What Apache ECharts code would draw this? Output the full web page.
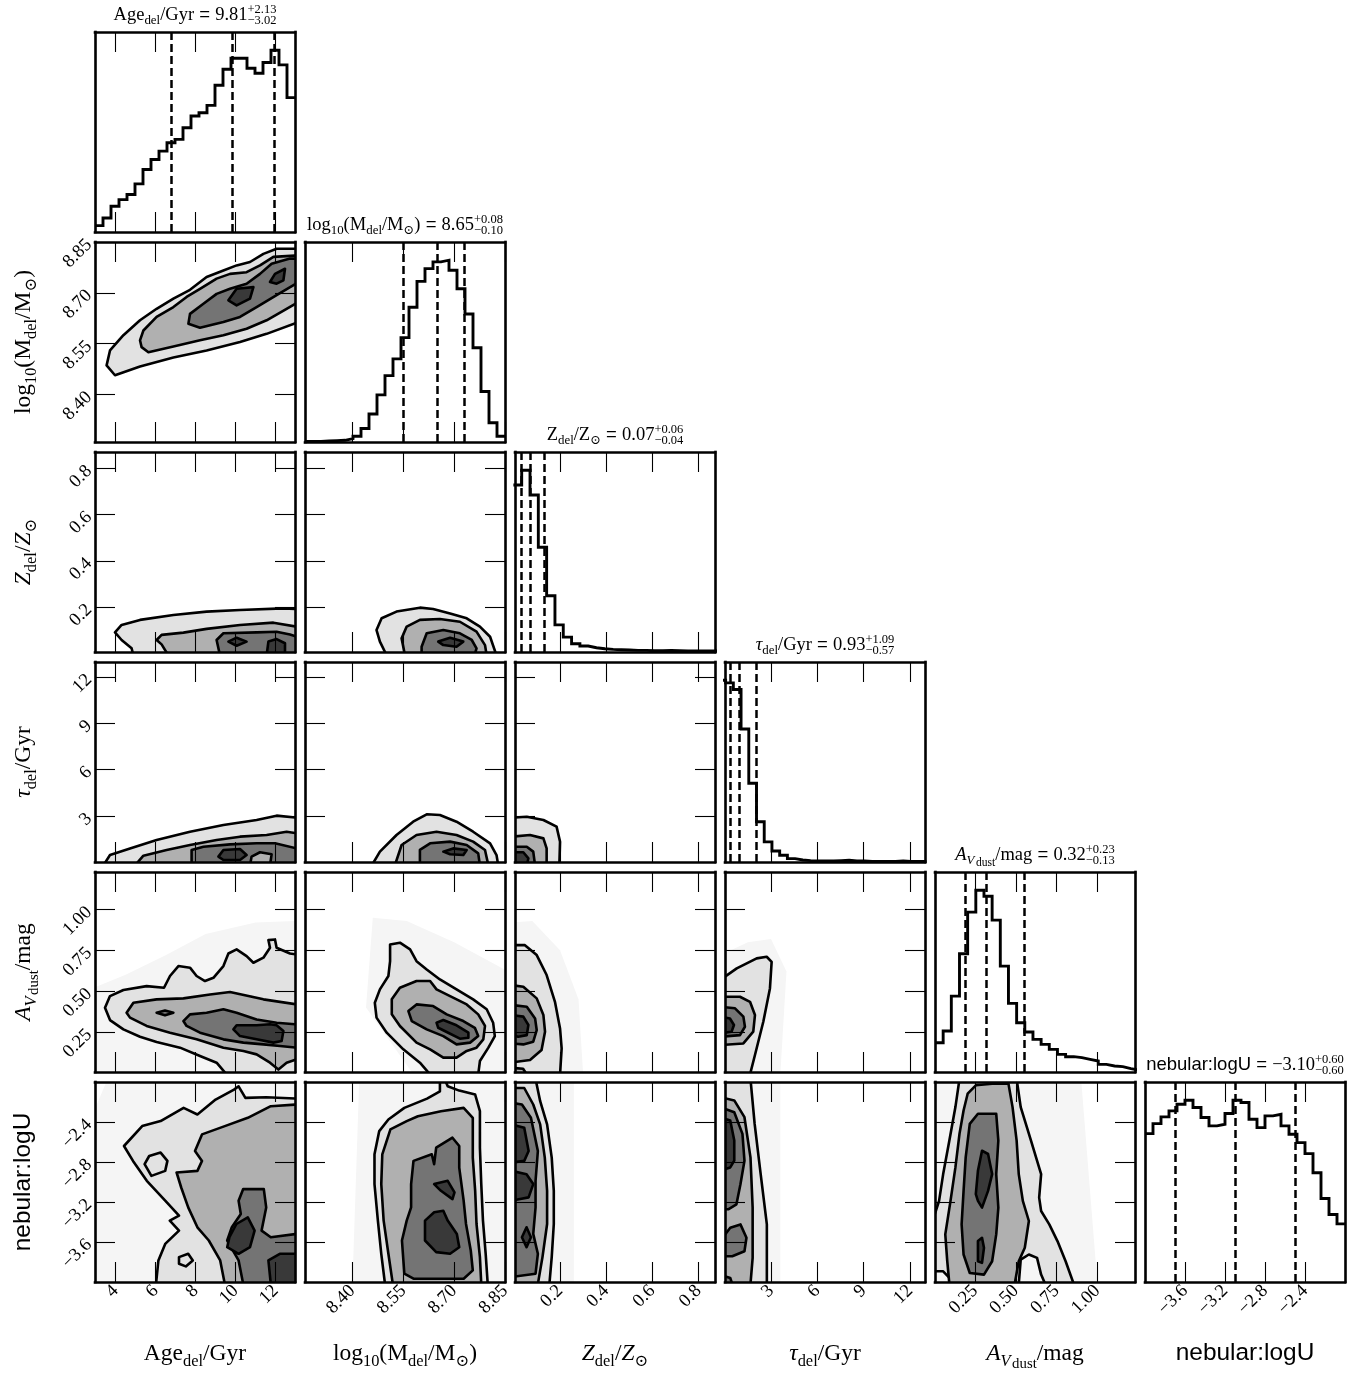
<!DOCTYPE html>
<html><head><meta charset="utf-8">
<script src="https://cdn.jsdelivr.net/npm/echarts@6.0.0/dist/echarts.min.js"></script>
<style>html,body{margin:0;padding:0;background:#fff}#c{width:1355px;height:1378px}</style>
</head><body><div id="c"></div>
<script>
// ---------------- DATA ----------------
const axisMin = [2.97, 8.26, 0.005, 0.02, 0.005, -4.0];
const axisMax = [12.97, 8.85, 0.871, 12.97, 1.23, -2.0];
const tickVals = [[4,6,8,10,12],[8.40,8.55,8.70,8.85],[0.2,0.4,0.6,0.8],[3,6,9,12],[0.25,0.5,0.75,1.0],[-3.6,-3.2,-2.8,-2.4]];
const tickLabels = [['4','6','8','10','12'],['8.40','8.55','8.70','8.85'],['0.2','0.4','0.6','0.8'],['3','6','9','12'],['0.25','0.50','0.75','1.00'],['\u22123.6','\u22123.2','\u22122.8','\u22122.4']];

const ageCounts = [19,42,77,97,112,144,187,217,242,267,277,312,347,357,379,439,487,520,520,490,475,507,544,500,402];
const massCounts = [2,2,3,4,5,10,17,40,83,140,197,247,310,400,477,515,535,540,510,455,380,280,150,57,17];
const zCounts = [505,550,475,317,170,82,45,25,18,13,10,8,7,6,5,5,4,4,5,4,3,3,3,3,3];
const tauCounts = [543,535,515,397,235,120,60,33,20,10,6,4,3,3,3,4,5,3,3,2,2,2,2,3,2,2,2];
const avCounts = [88,123,228,355,480,546,528,456,318,206,148,120,98,83,68,53,46,43,38,33,23,18,16,10,6];
const logUCounts = [444,474,494,512,532,544,522,492,467,472,504,544,537,487,462,497,502,467,442,417,384,327,250,202,174];
const binStart = [2.97, 8.26, -0.002, -0.44, 0.005, -4.0];
const binWidth = [0.4, 0.0236, 0.036, 0.5, 0.05, 0.08];

const ageQuant = [6.79, 9.81, 11.94];
const massQuant = [8.55, 8.65, 8.73];
const zQuant = [0.03, 0.07, 0.13];
const tauQuant = [0.36, 0.93, 2.02];
const avQuant = [0.19, 0.32, 0.55];
const logUQuant = [-3.70, -3.10, -2.50];

const titleNums = [['9.81','+2.13','\u22123.02'],['8.65','+0.08','\u22120.10'],['0.07','+0.06','\u22120.04'],['0.93','+1.09','\u22120.57'],['0.32','+0.23','\u22120.13'],['\u22123.10','+0.60','\u22120.60']];

// contour polygons: [level, [[x,y],...]]  (level 0 = faint halo)
const cAgeMass = [
 [1,[[3.55,8.486],[3.97,8.457],[5.22,8.483],[6.89,8.509],[8.55,8.530],[10.22,8.555],[11.55,8.579],[13.05,8.612],[13.05,8.830],[12.05,8.830],[11.39,8.815],[10.72,8.791],[10.05,8.781],[9.39,8.766],[8.55,8.747],[7.72,8.709],[6.89,8.683],[6.05,8.653],[5.22,8.619],[4.39,8.575],[3.72,8.530]]],
 [2,[[5.30,8.540],[5.64,8.525],[6.89,8.542],[8.22,8.560],[9.39,8.575],[10.55,8.594],[11.55,8.619],[12.55,8.653],[13.05,8.670],[13.05,8.810],[11.89,8.806],[11.22,8.781],[10.55,8.761],[9.72,8.756],[9.05,8.742],[8.22,8.712],[7.55,8.688],[6.89,8.658],[6.05,8.629],[5.39,8.589],[5.22,8.560]]],
 [3,[[7.64,8.609],[8.22,8.597],[9.39,8.614],[10.22,8.629],[11.05,8.658],[12.05,8.693],[13.05,8.728],[13.05,8.801],[12.72,8.801],[11.80,8.786],[11.22,8.756],[10.55,8.727],[9.72,8.712],[9.05,8.697],[8.39,8.668],[7.72,8.638]]],
 [4,[[9.64,8.678],[10.05,8.712],[10.89,8.717],[10.72,8.683],[10.05,8.663]]],
 [4,[[11.72,8.732],[11.97,8.756],[12.47,8.771],[12.39,8.737],[12.05,8.727]]]
];
const cAgeZ = [
 [1,[[4.89,-0.01],[4.80,0.021],[4.30,0.057],[3.97,0.090],[4.30,0.122],[5.22,0.144],[6.89,0.165],[8.55,0.180],[10.22,0.187],[12.39,0.194],[13.05,0.191],[13.05,-0.01]]],
 [2,[[6.64,-0.01],[6.30,0.038],[6.05,0.057],[6.30,0.079],[7.39,0.089],[8.55,0.105],[10.22,0.122],[11.89,0.132],[13.05,0.115],[13.05,-0.01]]],
 [3,[[9.22,-0.01],[9.05,0.057],[9.39,0.086],[11.05,0.090],[12.05,0.093],[12.72,0.081],[13.05,0.071],[13.05,-0.01]]],
 [4,[[9.64,0.050],[10.05,0.067],[10.55,0.050],[10.05,0.032]]],
 [4,[[11.55,-0.01],[11.64,0.050],[12.05,0.061],[12.47,0.043],[12.47,-0.01]]]
];
const cMassZ = [
 [1,[[8.501,-0.01],[8.481,0.050],[8.471,0.100],[8.486,0.151],[8.530,0.180],[8.599,0.197],[8.638,0.191],[8.688,0.172],[8.737,0.151],[8.776,0.115],[8.806,0.071],[8.825,-0.01]]],
 [2,[[8.555,-0.01],[8.545,0.064],[8.560,0.115],[8.599,0.144],[8.658,0.148],[8.717,0.136],[8.766,0.093],[8.791,0.035],[8.796,-0.01]]],
 [3,[[8.604,-0.01],[8.604,0.028],[8.619,0.086],[8.668,0.100],[8.717,0.086],[8.752,0.057],[8.766,0.021],[8.760,-0.01]]],
 [4,[[8.653,0.050],[8.688,0.067],[8.727,0.050],[8.707,0.028],[8.668,0.035]]]
];
const cAgeTau = [
 [1,[[3.39,-0.2],[3.72,0.47],[4.72,0.90],[6.05,1.44],[7.72,1.98],[9.39,2.42],[11.05,2.74],[12.05,3.02],[13.05,2.89],[13.05,-0.2]]],
 [2,[[4.97,-0.2],[5.39,0.43],[6.55,0.80],[7.72,1.12],[9.05,1.44],[10.22,1.66],[11.55,1.77],[12.55,1.98],[13.05,1.88],[13.05,-0.2]]],
 [3,[[7.80,-0.2],[7.80,0.80],[8.39,1.01],[9.72,1.16],[11.05,1.23],[11.97,1.23],[13.05,0.90],[13.05,-0.2],[11.72,-0.2],[11.80,0.52],[11.22,0.65],[10.80,0.37],[10.72,-0.2]]],
 [4,[[9.14,0.37],[9.39,0.80],[10.22,0.86],[10.55,0.47],[10.22,0.15],[9.39,0.15]]]
];
const cMassTau = [
 [1,[[8.457,-0.2],[8.481,0.69],[8.530,1.77],[8.579,2.63],[8.619,3.11],[8.658,3.06],[8.707,2.63],[8.756,1.98],[8.806,1.23],[8.825,0.47],[8.830,-0.2]]],
 [2,[[8.525,-0.2],[8.545,1.12],[8.589,1.77],[8.648,1.98],[8.707,1.77],[8.756,1.34],[8.791,0.80],[8.801,-0.2]]],
 [3,[[8.599,-0.2],[8.599,0.80],[8.629,1.23],[8.688,1.34],[8.737,1.12],[8.771,0.58],[8.776,-0.2]]],
 [4,[[8.668,0.69],[8.697,0.90],[8.737,0.80],[8.727,0.47],[8.688,0.52]]]
];
const cZTau = [
 [1,[[-0.01,2.89],[0.056,2.95],[0.128,2.74],[0.185,2.31],[0.200,1.34],[0.197,-0.2],[-0.01,-0.2]]],
 [2,[[-0.01,1.66],[0.070,1.77],[0.128,1.55],[0.142,0.90],[0.142,-0.2],[-0.01,-0.2]]],
 [3,[[-0.01,1.01],[0.056,1.01],[0.084,0.69],[0.092,-0.2],[-0.01,-0.2]]],
 [4,[[-0.01,0.65],[0.041,0.65],[0.063,0.26],[0.056,-0.2],[-0.01,-0.2]]]
];
const cAgeAv = [
 [0,[[2.9,-0.01],[2.9,0.52],[4.5,0.60],[6.5,0.72],[8.5,0.85],[11.0,0.92],[13.05,0.93],[13.05,-0.01]]],
 [1,[[3.47,0.399],[3.72,0.470],[4.39,0.507],[5.55,0.531],[6.42,0.521],[6.72,0.593],[7.14,0.654],[7.72,0.644],[8.05,0.593],[8.47,0.562],[8.89,0.582],[9.39,0.654],[9.64,0.731],[10.05,0.756],[10.55,0.715],[10.89,0.674],[11.39,0.705],[11.72,0.766],[11.64,0.813],[11.97,0.817],[12.05,0.766],[12.72,0.731],[13.05,0.725],[13.05,-0.01],[9.55,-0.01],[9.05,0.062],[8.22,0.103],[7.22,0.154],[6.05,0.189],[5.22,0.221],[4.39,0.266],[3.72,0.323]]],
 [2,[[4.55,0.368],[4.89,0.429],[6.05,0.450],[7.39,0.456],[8.72,0.480],[9.72,0.495],[11.39,0.450],[13.05,0.419],[13.05,0.083],[12.55,0.062],[12.14,0.02],[11.72,0.062],[11.05,0.113],[10.39,0.134],[9.39,0.154],[8.05,0.205],[6.72,0.246],[5.55,0.287],[4.72,0.338]]],
 [3,[[6.05,0.368],[6.47,0.382],[6.89,0.368],[6.47,0.352]]],
 [3,[[7.39,0.317],[7.72,0.358],[8.55,0.368],[9.39,0.389],[10.05,0.368],[11.05,0.327],[12.05,0.307],[13.05,0.297],[13.05,0.154],[12.22,0.164],[11.39,0.174],[10.39,0.185],[9.39,0.205],[8.22,0.246],[7.55,0.287]]],
 [4,[[9.89,0.266],[10.05,0.291],[11.05,0.291],[11.72,0.297],[12.05,0.291],[12.39,0.256],[12.30,0.195],[11.89,0.185],[11.05,0.205],[10.22,0.225]]]
];
const cMassAv = [
 [0,[[8.46,0.95],[8.56,0.93],[8.70,0.80],[8.86,0.62],[8.86,-0.01],[8.58,-0.01],[8.44,0.40]]],
 [1,[[8.511,0.786],[8.540,0.797],[8.570,0.756],[8.589,0.684],[8.619,0.633],[8.658,0.572],[8.707,0.511],[8.756,0.450],[8.796,0.389],[8.815,0.307],[8.820,0.225],[8.801,0.154],[8.776,0.072],[8.771,-0.01],[8.629,-0.01],[8.599,0.062],[8.550,0.144],[8.501,0.246],[8.471,0.338],[8.466,0.429],[8.481,0.511],[8.506,0.593],[8.511,0.684]]],
 [2,[[8.516,0.450],[8.540,0.521],[8.589,0.562],[8.629,0.562],[8.648,0.511],[8.688,0.470],[8.737,0.419],[8.771,0.358],[8.791,0.287],[8.786,0.205],[8.766,0.154],[8.737,0.134],[8.707,0.093],[8.668,0.093],[8.629,0.144],[8.589,0.185],[8.540,0.287],[8.516,0.358]]],
 [3,[[8.565,0.378],[8.589,0.419],[8.638,0.409],[8.678,0.358],[8.727,0.317],[8.761,0.276],[8.771,0.225],[8.747,0.185],[8.707,0.174],[8.668,0.225],[8.619,0.266],[8.575,0.317]]],
 [4,[[8.648,0.307],[8.668,0.323],[8.707,0.291],[8.742,0.246],[8.742,0.215],[8.717,0.209],[8.678,0.250],[8.653,0.276]]]
];
const cZAv = [
 [0,[[-0.01,-0.01],[-0.01,0.92],[0.08,0.93],[0.20,0.75],[0.28,0.45],[0.30,-0.01]]],
 [1,[[-0.01,0.782],[0.048,0.782],[0.099,0.721],[0.142,0.599],[0.178,0.435],[0.200,0.272],[0.207,0.150],[0.200,-0.01],[-0.01,-0.01]]],
 [2,[[-0.01,0.537],[0.041,0.527],[0.099,0.456],[0.128,0.354],[0.135,0.252],[0.120,0.140],[0.070,0.078],[-0.01,0.064]]],
 [2,[[-0.01,0.03],[0.040,0.025],[0.056,-0.01],[-0.01,-0.01]]],
 [3,[[-0.01,0.415],[0.056,0.405],[0.092,0.333],[0.099,0.262],[0.084,0.191],[0.041,0.174],[-0.01,0.180]]],
 [4,[[-0.01,0.354],[0.041,0.344],[0.063,0.293],[0.056,0.231],[0.019,0.221],[-0.01,0.231]]]
];
const cTauAv = [
 [0,[[-0.3,-0.01],[-0.3,0.72],[1.5,0.80],[3.0,0.82],[4.0,0.62],[3.6,-0.01]]],
 [1,[[-0.3,0.568],[0.78,0.640],[2.07,0.701],[2.72,0.711],[3.04,0.680],[2.93,0.517],[2.50,0.313],[1.96,0.109],[1.64,-0.01],[-0.3,-0.01]]],
 [2,[[-0.3,0.466],[0.99,0.466],[1.64,0.435],[1.96,0.354],[1.85,0.252],[1.21,0.180],[-0.3,0.170]]],
 [3,[[-0.3,0.405],[0.67,0.395],[1.21,0.344],[1.31,0.282],[0.99,0.231],[-0.3,0.221]]],
 [4,[[-0.3,0.344],[0.34,0.333],[0.60,0.293],[0.45,0.252],[-0.3,0.242]]]
];
const cAgeLogU = [
 [0,[[2.9,-4.02],[2.9,-2.3],[3.6,-1.97],[13.05,-1.97],[13.05,-4.02]]],
 [1,[[6.02,-4.02],[6.14,-3.784],[6.48,-3.619],[7.17,-3.486],[6.71,-3.386],[7.17,-3.337],[6.48,-3.187],[5.56,-2.988],[4.87,-2.789],[4.42,-2.640],[5.33,-2.441],[6.25,-2.391],[7.40,-2.259],[8.09,-2.325],[9.00,-2.176],[9.92,-2.076],[10.15,-2.043],[10.49,-2.159],[11.53,-2.152],[13.05,-2.166],[13.05,-4.02]]],
 [1,[[5.45,-2.822],[5.68,-2.740],[6.25,-2.706],[6.59,-2.789],[6.48,-2.889],[5.79,-2.939]]],
 [1,[[7.17,-3.751],[7.63,-3.718],[7.86,-3.784],[7.51,-3.844],[7.17,-3.818]]],
 [2,[[9.46,-4.02],[9.23,-3.784],[8.66,-3.585],[8.09,-3.453],[7.63,-3.254],[7.28,-3.055],[7.05,-2.905],[8.09,-2.889],[8.32,-2.789],[7.97,-2.690],[8.32,-2.524],[9.46,-2.441],[10.61,-2.358],[11.76,-2.242],[13.05,-2.225],[13.05,-4.02]]],
 [3,[[10.38,-4.02],[10.15,-3.784],[9.58,-3.585],[9.81,-3.453],[10.26,-3.320],[10.15,-3.187],[10.38,-3.071],[11.41,-3.071],[11.53,-3.254],[11.30,-3.486],[11.76,-3.552],[13.05,-3.519],[13.05,-4.02]]],
 [4,[[9.69,-3.552],[10.04,-3.420],[10.61,-3.353],[10.95,-3.486],[10.72,-3.652],[10.15,-3.718],[9.58,-3.652]]],
 [4,[[11.76,-4.02],[11.64,-3.784],[12.21,-3.718],[13.05,-3.718],[13.05,-4.02]]]
];
const cMassLogU = [
 [0,[[8.40,-4.02],[8.42,-1.97],[8.86,-1.97],[8.86,-4.02]]],
 [1,[[8.496,-4.02],[8.485,-3.718],[8.475,-3.386],[8.465,-3.021],[8.465,-2.723],[8.479,-2.491],[8.506,-2.375],[8.553,-2.259],[8.620,-2.166],[8.658,-2.093],[8.658,-1.97],[8.672,-1.97],[8.681,-2.043],[8.715,-2.086],[8.762,-2.126],[8.776,-2.292],[8.776,-2.657],[8.780,-3.021],[8.785,-3.386],[8.793,-3.718],[8.799,-4.02]]],
 [2,[[8.519,-4.02],[8.506,-3.718],[8.492,-3.386],[8.485,-3.021],[8.488,-2.723],[8.512,-2.474],[8.560,-2.391],[8.593,-2.342],[8.661,-2.292],[8.728,-2.259],[8.755,-2.358],[8.755,-2.756],[8.762,-3.088],[8.766,-3.420],[8.776,-3.751],[8.780,-4.02]]],
 [3,[[8.553,-3.917],[8.546,-3.585],[8.560,-3.386],[8.573,-3.254],[8.573,-3.021],[8.580,-2.789],[8.634,-2.723],[8.641,-2.822],[8.647,-2.657],[8.695,-2.557],[8.715,-2.640],[8.715,-2.856],[8.728,-3.187],[8.735,-3.420],[8.749,-3.685],[8.755,-3.884],[8.728,-3.967],[8.580,-3.967]]],
 [4,[[8.614,-3.585],[8.614,-3.386],[8.641,-3.303],[8.668,-3.287],[8.681,-3.386],[8.708,-3.519],[8.715,-3.652],[8.688,-3.718],[8.647,-3.701]]],
 [4,[[8.641,-3.021],[8.681,-2.988],[8.701,-3.104],[8.695,-3.171],[8.661,-3.088]]]
];
const cZLogU = [
 [0,[[-0.01,-4.02],[-0.01,-1.97],[0.26,-1.97],[0.26,-4.02]]],
 [1,[[-0.01,-1.97],[0.094,-1.97],[0.114,-2.192],[0.144,-2.424],[0.164,-2.756],[0.173,-3.088],[0.173,-3.420],[0.164,-3.751],[0.154,-4.02],[-0.01,-4.02]]],
 [2,[[-0.01,-2.060],[0.045,-2.060],[0.084,-2.225],[0.114,-2.424],[0.134,-2.756],[0.144,-3.088],[0.144,-3.420],[0.124,-3.751],[0.104,-4.02],[-0.01,-4.02]]],
 [3,[[-0.01,-2.209],[0.035,-2.225],[0.074,-2.358],[0.104,-2.690],[0.094,-2.988],[0.094,-3.254],[0.084,-3.519],[0.104,-3.718],[0.094,-3.917],[-0.01,-3.950]]],
 [4,[[-0.01,-2.424],[0.045,-2.458],[0.064,-2.690],[0.045,-2.789],[-0.01,-2.806]]],
 [4,[[-0.01,-2.889],[0.055,-2.922],[0.084,-3.021],[0.064,-3.154],[-0.01,-3.187]]],
 [4,[[0.035,-3.552],[0.055,-3.453],[0.074,-3.552],[0.055,-3.652]]]
];
const cTauLogU = [
 [0,[[-0.3,-4.02],[-0.3,-1.97],[3.6,-1.97],[3.6,-4.02]]],
 [1,[[-0.3,-1.97],[1.67,-1.97],[1.94,-2.419],[2.33,-2.921],[2.73,-3.424],[2.73,-4.02],[-0.3,-4.02]]],
 [2,[[-0.3,-2.151],[0.62,-2.184],[1.28,-2.352],[1.67,-2.754],[1.81,-3.256],[1.81,-3.759],[1.67,-4.02],[-0.3,-4.02]]],
 [3,[[-0.3,-2.251],[0.62,-2.302],[1.15,-2.519],[1.28,-2.787],[1.02,-3.022],[0.76,-3.223],[0.23,-3.273],[-0.3,-3.273]]],
 [3,[[-0.3,-3.591],[0.36,-3.457],[1.02,-3.424],[1.41,-3.558],[1.28,-3.692],[0.49,-3.742],[-0.3,-3.742]]],
 [3,[[-0.3,-3.93],[0.36,-3.96],[0.49,-4.02],[-0.3,-4.02]]],
 [4,[[-0.3,-2.352],[0.36,-2.385],[0.62,-2.586],[0.62,-2.787],[0.36,-2.854],[-0.3,-2.888]]]
];
const cAvLogU = [
 [0,[[-0.01,-4.02],[-0.01,-1.97],[0.90,-1.97],[1.00,-4.02]]],
 [1,[[-0.01,-3.390],[0.030,-3.189],[0.055,-2.921],[0.093,-2.586],[0.130,-2.251],[0.155,-1.97],[0.505,-1.97],[0.530,-2.251],[0.593,-2.586],[0.655,-2.921],[0.643,-3.156],[0.655,-3.290],[0.705,-3.424],[0.755,-3.591],[0.805,-3.792],[0.855,-4.02],[0.680,-4.02],[0.655,-3.926],[0.630,-3.759],[0.580,-3.725],[0.530,-3.776],[0.518,-4.02],[0.130,-4.02],[0.055,-3.893],[-0.01,-3.893]]],
 [2,[[0.093,-4.02],[0.080,-3.792],[0.068,-3.524],[0.100,-3.189],[0.130,-2.854],[0.155,-2.519],[0.180,-2.285],[0.205,-2.117],[0.255,-2.033],[0.355,-2.017],[0.455,-2.017],[0.480,-2.251],[0.505,-2.586],[0.518,-2.921],[0.543,-3.189],[0.580,-3.390],[0.555,-3.658],[0.518,-3.792],[0.493,-4.02]]],
 [3,[[0.180,-3.725],[0.168,-3.424],[0.180,-3.089],[0.193,-2.754],[0.218,-2.419],[0.268,-2.318],[0.380,-2.318],[0.393,-2.586],[0.380,-2.921],[0.393,-3.256],[0.380,-3.524],[0.355,-3.792],[0.305,-3.926],[0.218,-3.910]]],
 [4,[[0.255,-3.122],[0.268,-2.888],[0.293,-2.687],[0.330,-2.720],[0.355,-2.921],[0.330,-3.089],[0.293,-3.256],[0.268,-3.189]]],
 [4,[[0.268,-3.792],[0.268,-3.591],[0.293,-3.558],[0.305,-3.658],[0.293,-3.809]]]
];

// ---------------- BUILD ----------------
const histCounts = [ageCounts, massCounts, zCounts, tauCounts, avCounts, logUCounts];
const histQuant = [ageQuant, massQuant, zQuant, tauQuant, avQuant, logUQuant];
const contours = {'1,0':cAgeMass,'2,0':cAgeZ,'2,1':cMassZ,'3,0':cAgeTau,'3,1':cMassTau,'3,2':cZTau,
  '4,0':cAgeAv,'4,1':cMassAv,'4,2':cZAv,'4,3':cTauAv,'5,0':cAgeLogU,'5,1':cMassLogU,'5,2':cZLogU,'5,3':cTauLogU,'5,4':cAvLogU};

const SERIF = '"Liberation Serif","DejaVu Serif",serif';
const SANS = '"Liberation Sans","DejaVu Sans",sans-serif';
const FILL = ['#f5f5f5','#e2e2e2','#b0b0b0','#747474','#393939'];
const PANEL = 200, STEP = 210, X0 = 95, Y0 = 32;
const TICKFS = 18.5;

function fmt(i){ return v => { const a = tickVals[i]; for (let k=0;k<a.length;k++) if (Math.abs(a[k]-v)<1e-6) return tickLabels[i][k]; return ''; }; }
function stepData(i){ const c = histCounts[i]; const d = c.map((v,k)=>[binStart[i]+k*binWidth[i], v]); d.push([binStart[i]+c.length*binWidth[i], c[c.length-1]]); return d; }

const grids=[], xAxes=[], yAxes=[], series=[];
const lineAx = {show:true, onZero:false, lineStyle:{color:'#000', width:2.6, cap:'square'}};
for (let r=0;r<6;r++) for (let c=0;c<=r;c++){
  const gi = grids.length;
  grids.push({left:X0+STEP*c, top:Y0+STEP*r, width:PANEL, height:PANEL, show:false});
  const xt = {show:true, inside:true, length:20, lineStyle:{color:'#000', width:1.1}, customValues:tickVals[c]};
  const xb = xAxes.length;
  xAxes.push({gridIndex:gi, type:'value', min:axisMin[c], max:axisMax[c], position:'bottom', z:10, splitLine:{show:false}, axisLine:lineAx, axisTick:xt,
    axisLabel:{show:r===5, customValues:tickVals[c], formatter:fmt(c), rotate:45, fontFamily:SERIF, fontSize:TICKFS, color:'#000', margin:6}});
  xAxes.push({gridIndex:gi, type:'value', min:axisMin[c], max:axisMax[c], position:'top', z:10, splitLine:{show:false}, axisLine:lineAx, axisTick:xt, axisLabel:{show:false}});
  const yb = yAxes.length;
  if (r===c){
    const m = 1.1*Math.max(...histCounts[c]);
    for (const pos of ['left','right']) yAxes.push({gridIndex:gi, type:'value', min:0, max:m, position:pos, z:10, splitLine:{show:false}, axisLine:lineAx, axisTick:{show:false}, axisLabel:{show:false}});
    series.push({type:'line', xAxisIndex:xb, yAxisIndex:yb, step:'end', data:stepData(c), showSymbol:false, symbol:'none', clip:true, z:3,
      lineStyle:{color:'#000', width:2.9, join:'miter'},
      markLine:{silent:true, symbol:'none', label:{show:false}, animation:false, lineStyle:{color:'#000', width:2.5, type:[8,4]},
        data: histQuant[c].map(q=>({xAxis:q}))}});
  } else {
    const yt = {show:true, inside:true, length:20, lineStyle:{color:'#000', width:1.1}, customValues:tickVals[r]};
    yAxes.push({gridIndex:gi, type:'value', min:axisMin[r], max:axisMax[r], position:'left', z:10, splitLine:{show:false}, axisLine:lineAx, axisTick:yt,
      axisLabel:{show:c===0, customValues:tickVals[r], formatter:fmt(r), rotate:45, fontFamily:SERIF, fontSize:TICKFS, color:'#000', margin:6}});
    yAxes.push({gridIndex:gi, type:'value', min:axisMin[r], max:axisMax[r], position:'right', z:10, splitLine:{show:false}, axisLine:lineAx, axisTick:yt, axisLabel:{show:false}});
    const polys = contours[r+','+c];
    series.push({type:'custom', xAxisIndex:xb, yAxisIndex:yb, clip:true, silent:true, z:2,
      data: polys.map(p=>p[1][0]),
      renderItem:(params, api)=>{ const p = polys[params.dataIndex];
        return {type:'polygon', shape:{points:p[1].map(q=>api.coord(q))},
          style:{fill:FILL[p[0]], stroke:p[0]===0?null:'#000', lineWidth:2.6, lineJoin:'round'}}; }});
  }
}

// ---------------- TEXT ----------------
const mctx = document.createElement('canvas').getContext('2d');
function fontStr(s, fam, it){ return (it?'italic ':'') + s + 'px ' + fam; }
function tw(t, s, fam, it){ mctx.font = fontStr(s, fam, it); return mctx.measureText(t).width; }
function mk(t, x, dy, s, fam, it){
  return {type:'text', x:x, y:dy - 0.34*s, silent:true,
    style:{text:t, font:fontStr(s,fam,it), fill:'#000', align:'left', verticalAlign:'middle', textAlign:'left', textVerticalAlign:'middle'}};
}
function textGroup(runs, x0, y0, rot){
  let x=0; const els=[];
  for (const r of runs){
    const fam = r.f || SERIF;
    if (r.stack){
      const w = Math.max(tw(r.stack[0], r.s, fam), tw(r.stack[1], r.s, fam));
      els.push(mk(r.stack[0], x, r.up, r.s, fam, false));
      els.push(mk(r.stack[1], x, r.down, r.s, fam, false));
      x += w;
    } else {
      els.push(mk(r.t, x, r.dy||0, r.s, fam, r.it));
      x += tw(r.t, r.s, fam, r.it) + (r.gap||0);
    }
  }
  els.forEach(e=>{ e.x -= x/2; });
  return {type:'group', x:x0, y:y0, rotation:rot||0, children:els};
}
function nameRuns(i, S, title){
  const s2 = +(S*0.7).toFixed(1), d = S*0.22;
  switch(i){
    case 0: return [{t:'Age',s:S},{t:'del',s:s2,dy:d},{t:'/Gyr',s:S}];
    case 1: return [{t:'log',s:S},{t:'10',s:s2,dy:d},{t:'(M',s:S},{t:'del',s:s2,dy:d},{t:'/M',s:S},{t:'\u2299',s:s2,dy:d},{t:')',s:S}];
    case 2: return [{t:'Z',s:S,it:!title},{t:'del',s:s2,dy:d},{t:'/',s:S},{t:'Z',s:S,it:!title},{t:'\u2299',s:s2,dy:d}];
    case 3: return [{t:'\u03c4',s:S,it:true},{t:'del',s:s2,dy:d},{t:'/Gyr',s:S}];
    case 4: return [{t:'A',s:S,it:true},{t:'V',s:s2,dy:d,it:true,gap:1.5},{t:'dust',s:+(s2*0.9).toFixed(1),dy:d*1.4},{t:'/mag',s:S}];
    case 5: return [{t:'nebular:logU',s:title?S:S*1.04,f:SANS}];
  }
}
const graphics = [];
const LS = 23.5, TS = 18.5, SS = 12.5;
for (let i=0;i<6;i++){
  const cx = X0 + STEP*i + PANEL/2;
  graphics.push(textGroup(nameRuns(i, LS, false), cx, 1362, 0));
  if (i>0) graphics.push(textGroup(nameRuns(i, LS, false), 32, Y0 + STEP*i + PANEL/2, Math.PI/2));
  const n = titleNums[i];
  const runs = nameRuns(i, TS, true).concat([{t:' = ', s:TS, f:SANS}, {t:n[0], s:TS},
    {stack:[n[1], n[2]], s:SS, up:-TS*0.36, down:TS*0.2}]);
  graphics.push(textGroup(runs, cx, Y0 + STEP*i - 11, 0));
}

const chart = echarts.init(document.getElementById('c'), null, {renderer:'canvas'});
chart.setOption({animation:false, backgroundColor:'#fff', grid:grids, xAxis:xAxes, yAxis:yAxes, series:series, graphic:{elements:graphics}});
</script></body></html>
